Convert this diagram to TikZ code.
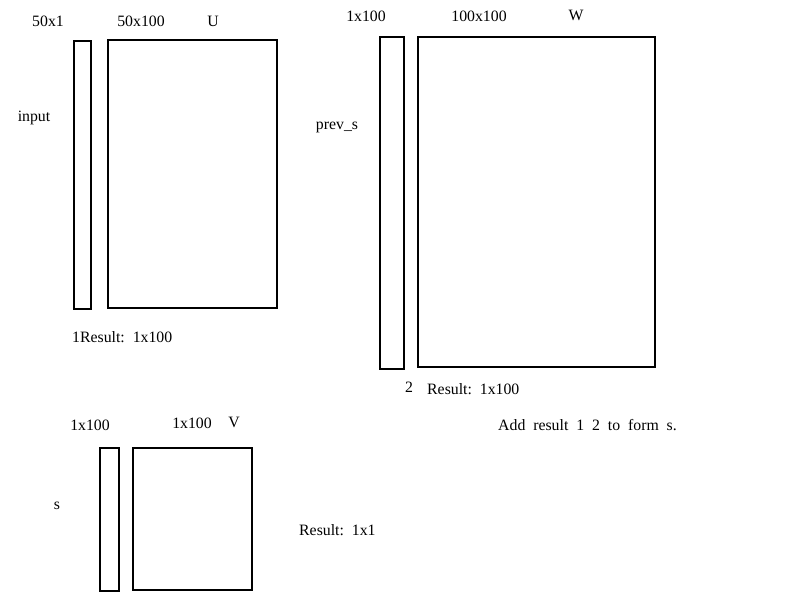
\documentclass[tikz,border=0pt]{standalone}
\usepackage{fontspec}
\setmainfont{Liberation Serif}
\begin{document}
\begin{tikzpicture}[x=1pt,y=-1pt,
  mat/.style={draw=black,line width=2pt},
  lbl/.style={inner sep=0pt,font=\fontsize{15.8}{18}\selectfont}]
\useasboundingbox (0,0) rectangle (800,600);
% top-left group
\draw[mat] (74,41) rectangle (91,309) coordinate (inputvec);
\draw[mat] (108,40) rectangle (277,308) coordinate (Umat);
\node[lbl] (t50x1) at (48,21) {50x1};
\node[lbl] (t50x100) at (141,21) {50x100};
\node[lbl] (tU) at (213,21) {U};
\node[lbl] (tinput) at (34,118) {input};
\node[lbl,anchor=west] (res1) at (72,337) {1\kern0pt Result:\ \ 1x100};
% top-right group
\draw[mat] (380,37) rectangle (404,369) coordinate (prevvec);
\draw[mat] (418,37) rectangle (655,367) coordinate (Wmat);
\node[lbl] (t1x100a) at (366,16) {1x100};
\node[lbl] (t100x100) at (479,16) {100x100};
\node[lbl] (tW) at (576,15) {W};
\node[lbl] (tprev) at (337,127) {prev\_s};
\node[lbl] (t2) at (409,387) {2};
\node[lbl,anchor=west] (res2) at (427,389) {Result:\ \ 1x100};
\node[lbl,anchor=west] (tadd) at (498,425) {Add\ \ result\ \ 1\ \ 2\ \ to\ \ form\ \ s.};
% bottom group
\draw[mat] (100,448) rectangle (119,591) coordinate (svec);
\draw[mat] (133,448) rectangle (252,590) coordinate (Vmat);
\node[lbl] (t1x100b) at (90,425) {1x100};
\node[lbl] (t1x100c) at (192,423) {1x100};
\node[lbl] (tV) at (234,422) {V};
\node[lbl] (ts) at (57,506) {s};
\node[lbl,anchor=west] (res3) at (299,530) {Result:\ \ 1x1};
\end{tikzpicture}
\end{document}
